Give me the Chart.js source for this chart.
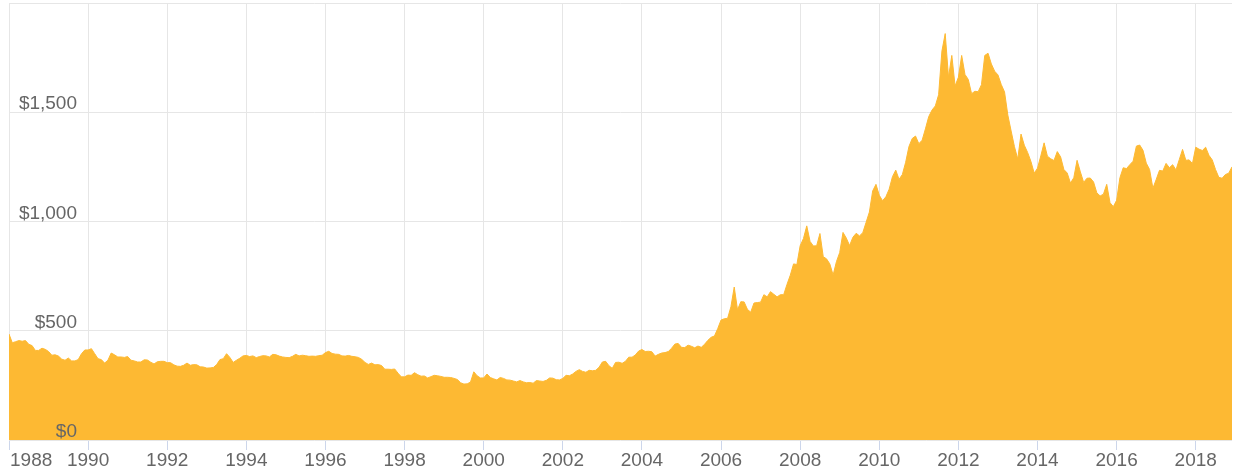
<!DOCTYPE html>
<html>
<head>
<meta charset="utf-8">
<script src="https://cdn.jsdelivr.net/npm/chart.js@4.4.0/dist/chart.umd.min.js"></script>
<style>
  html, body { margin: 0; padding: 0; background: #fff; }
  #wrap { width: 1237px; height: 475px; position: relative; }
</style>
</head>
<body>
<div id="wrap"><canvas id="chart"></canvas></div>
<script>
// Gold price, USD per ounce, one value per month starting January 1988
const START_YEAR = 1988

const prices1988_1992 = [
  485, 445, 450, 455, 452, 455, 438, 432, 410, 410, 420, 415,
  405, 388, 390, 384, 370, 365, 375, 362, 362, 368, 395, 412,
  412, 418, 395, 372, 368, 352, 365, 398, 390, 380, 380, 378,
  382, 365, 362, 357, 357, 367, 366, 356, 348, 358, 360, 360,
  354, 354, 344, 338, 337, 342, 352, 342, 345, 344, 335, 334
]
const prices1993_1997 = [
  329, 330, 332, 345, 368, 372, 395, 378, 355, 365, 374, 385,
  387, 382, 385, 377, 382, 386, 385, 380, 392, 390, 384, 380,
  378, 377, 383, 392, 385, 388, 386, 383, 384, 383, 386, 388,
  400, 406, 396, 393, 392, 385, 384, 387, 383, 381, 378, 369,
  355, 346, 352, 344, 345, 341, 324, 324, 323, 325, 306, 289
]
const prices1998_2002 = [
  289, 297, 296, 308, 299, 292, 293, 284, 290, 296, 294, 291,
  287, 287, 286, 282, 277, 262, 256, 257, 265, 312, 294, 284,
  284, 302, 286, 280, 275, 286, 282, 275, 274, 270, 266, 272,
  266, 262, 263, 260, 272, 270, 268, 273, 284, 283, 276, 275,
  282, 296, 294, 302, 314, 322, 314, 310, 319, 317, 319, 333
]
const prices2003_2007 = [
  357, 360, 340, 328, 355, 356, 351, 360, 379, 379, 389, 407,
  414, 405, 406, 404, 384, 392, 398, 400, 405, 420, 439, 442,
  424, 423, 434, 429, 422, 430, 424, 438, 456, 470, 476, 510,
  549, 555, 557, 610, 700, 596, 633, 632, 598, 585, 627, 629,
  631, 665, 655, 679, 667, 655, 665, 665, 712, 754, 806, 803
]
const prices2008_2012 = [
  889, 922, 980, 909, 888, 889, 945, 839, 829, 806, 755, 816,
  858, 950, 924, 890, 928, 946, 934, 949, 996, 1043, 1140, 1170,
  1120, 1095, 1113, 1148, 1205, 1235, 1193, 1215, 1271, 1343, 1380, 1391,
  1356, 1372, 1424, 1480, 1510, 1529, 1580, 1780, 1860, 1660, 1760, 1620,
  1660, 1760, 1673, 1650, 1585, 1596, 1594, 1626, 1760, 1770, 1721, 1688
]
const prices2013_2018 = [
  1671, 1627, 1593, 1487, 1414, 1343, 1286, 1400, 1349, 1316, 1275, 1221,
  1244, 1300, 1360, 1299, 1287, 1279, 1320, 1296, 1238, 1222, 1176, 1200,
  1280, 1227, 1179, 1198, 1199, 1181, 1131, 1117, 1125, 1170, 1086, 1068,
  1097, 1200, 1246, 1242, 1260, 1276, 1345, 1350, 1326, 1267, 1238, 1152,
  1192, 1234, 1231, 1266, 1246, 1260, 1236, 1283, 1330, 1280, 1282, 1265,
  1340, 1331, 1325, 1340, 1303, 1282, 1238, 1202, 1198, 1215, 1221, 1250
]

const yearTicks  = [1988, 1990, 1992, 1994, 1996, 1998, 2000, 2002, 2004, 2006, 2008, 2010, 2012, 2014, 2016, 2018]
const priceTicks = [0, 500, 1000, 1500, 2000]

const prices = [].concat(prices1988_1992, prices1993_1997, prices1998_2002,
                         prices2003_2007, prices2008_2012, prices2013_2018)
const points = prices.map((p, i) => ({ x: START_YEAR + i / 12, y: p }))

const GOLD = "#fdb933"
const GRID = "#e6e6e6"
const LABEL = "#666666"
const FONT = "19px 'Liberation Sans', Arial, sans-serif"

const fmtPrice = (v) => "$" + v.toLocaleString("en-US")

// Highcharts-like labels: y labels sit inside the plot above their grid line,
// x labels are centred on ticks but kept inside the canvas on the left.
const axisLabels = {
  id: "axisLabels",
  afterDraw(chart) {
    const { ctx, chartArea, scales: { x, y } } = chart
    ctx.save()
    ctx.font = FONT
    ctx.fillStyle = LABEL
    ctx.textBaseline = "alphabetic"

    ctx.textAlign = "right"
    for (const t of y.ticks) {
      if (t.value >= y.max) continue
      ctx.fillText(fmtPrice(t.value), chartArea.left + 68, y.getPixelForValue(t.value) - 3)
    }

    ctx.textAlign = "left"
    for (const t of x.ticks) {
      const label = String(t.value)
      const w = ctx.measureText(label).width
      const px = x.getPixelForValue(t.value)
      const left = Math.max(px - w / 2, chartArea.left + 1)
      ctx.fillText(label, left, chartArea.bottom + 26)
    }
    ctx.restore()
  }
}

new Chart(document.getElementById("chart"), {
  type: "line",
  data: {
    datasets: [{
      data: points,
      fill: "origin",
      backgroundColor: GOLD,
      borderColor: GOLD,
      borderWidth: 1,
      pointRadius: 0,
      tension: 0
    }]
  },
  options: {
    responsive: true,
    maintainAspectRatio: false,
    animation: false,
    layout: { padding: { left: 9, right: 5, top: 3, bottom: 25 } },
    plugins: { legend: { display: false }, tooltip: { enabled: false } },
    scales: {
      x: {
        type: "linear",
        min: START_YEAR,
        max: START_YEAR + (prices.length - 1) / 12,
        afterBuildTicks: (s) => { s.ticks = yearTicks.map((v) => ({ value: v })) },
        ticks: { display: false },
        grid: { color: GRID, tickColor: "#ccd6eb", tickLength: 10, drawTicks: true },
        border: { display: false }
      },
      y: {
        min: 0,
        max: 2000,
        afterBuildTicks: (s) => { s.ticks = priceTicks.map((v) => ({ value: v })) },
        ticks: { display: false },
        grid: { color: GRID, drawTicks: false },
        border: { display: false }
      }
    }
  },
  plugins: [axisLabels]
})
</script>
</body>
</html>
